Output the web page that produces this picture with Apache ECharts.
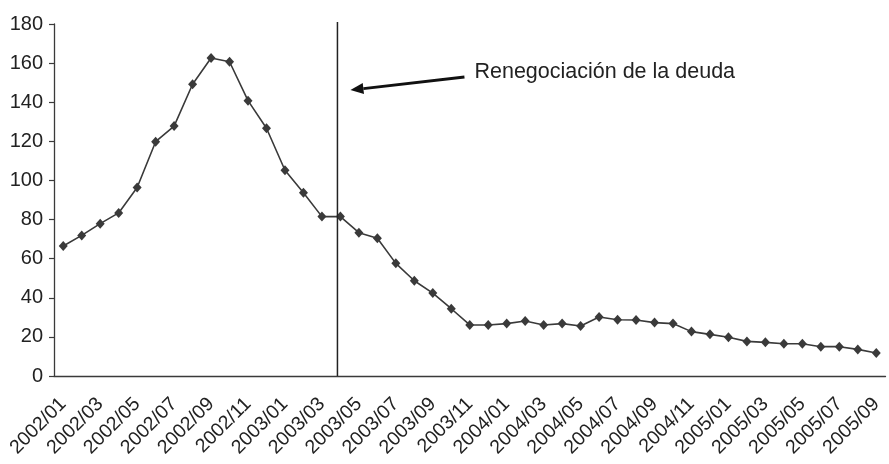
<!DOCTYPE html>
<html>
<head>
<meta charset="utf-8">
<script src="https://cdn.jsdelivr.net/npm/echarts@6/dist/echarts.min.js"></script>
<style>
  html, body { margin: 0; padding: 0; background: #fff; }
  #chart { width: 889px; height: 464px; }
</style>
</head>
<body>
<div id="chart"></div>
<script>
// Monthly series, 2002/01 – 2005/09
const months = [];
for (let y = 2002; y <= 2005; y++) {
  for (let m = 1; m <= 12; m++) {
    if (y === 2005 && m > 9) break;
    months.push(y + '/' + String(m).padStart(2, '0'));
  }
}

const values = [
  66.5, 71.9, 77.9, 83.4, 96.4, 119.8, 127.8, 149.2, 162.6, 160.7,
  140.8, 126.7, 105.2, 93.7, 81.5, 81.5, 73.3, 70.4, 57.6, 48.7,
  42.4, 34.4, 26.1, 26.1, 26.8, 28.1, 26.1, 26.8, 25.6, 30.2,
  28.8, 28.6, 27.3, 26.8, 22.7, 21.3, 19.8, 17.7, 17.2, 16.5,
  16.5, 15.0, 15.0, 13.6, 11.8
];

const yTicks = { min: 0, max: 180, step: 20 };

// Month of the debt renegotiation (index into months)
const eventMonth = '2003/04';
const eventLabel = 'Renegociación de la deuda';

const ink = '#3a3a3a';
const chart = echarts.init(document.getElementById('chart'));

chart.setOption({
  animation: false,
  grid: { left: 54, right: 3.5, top: 24, bottom: 88, containLabel: false },
  xAxis: {
    type: 'category',
    data: months,
    boundaryGap: true,
    axisLine: { lineStyle: { color: ink, width: 1.3 } },
    axisTick: { interval: 0, length: 5, lineStyle: { color: ink, width: 1.2 } },
    axisLabel: {
      interval: 1,
      rotate: 45,
      margin: 25,
      color: '#222',
      fontFamily: 'Liberation Sans, Arial, sans-serif',
      fontSize: 19.5
    },
    splitLine: { show: false }
  },
  yAxis: {
    type: 'value',
    min: yTicks.min,
    max: yTicks.max,
    interval: yTicks.step,
    axisLine: { show: true, lineStyle: { color: ink, width: 1.3 } },
    axisTick: { show: true, length: 5, lineStyle: { color: ink, width: 1.2 } },
    axisLabel: {
      margin: 11,
      color: '#222',
      fontFamily: 'Liberation Sans, Arial, sans-serif',
      fontSize: 20
    },
    splitLine: { show: false }
  },
  series: [{
    type: 'line',
    data: values,
    symbol: 'diamond',
    symbolSize: [9, 10],
    itemStyle: { color: ink },
    lineStyle: { color: ink, width: 1.6 }
  }]
});

// Event marker: vertical rule, arrow and caption
function drawAnnotation() {
  const idx = months.indexOf(eventMonth);
  const x0 = chart.convertToPixel({ xAxisIndex: 0 }, idx);
  const x1 = chart.convertToPixel({ xAxisIndex: 0 }, idx - 1);
  const step = x0 - x1;
  const xLine = x0 - step * 0.16;
  const yBottom = chart.convertToPixel({ yAxisIndex: 0 }, yTicks.min);
  const yTop = chart.convertToPixel({ yAxisIndex: 0 }, yTicks.max) - 2;

  const head = [xLine + 13, 90];
  const tail = [head[0] + 114, 77];
  const ang = Math.atan2(tail[1] - head[1], tail[0] - head[0]);
  const hl = 13, hw = 5.5;
  const bx = head[0] + Math.cos(ang) * hl, by = head[1] + Math.sin(ang) * hl;
  const px = -Math.sin(ang) * hw, py = Math.cos(ang) * hw;

  chart.setOption({
    graphic: [
      {
        type: 'line',
        shape: { x1: xLine, y1: yTop, x2: xLine, y2: yBottom },
        style: { stroke: '#222', lineWidth: 1.5 },
        z: 10
      },
      {
        type: 'line',
        shape: { x1: bx, y1: by, x2: tail[0], y2: tail[1] },
        style: { stroke: '#111', lineWidth: 2.8 },
        z: 10
      },
      {
        type: 'polygon',
        shape: { points: [head, [bx + px, by + py], [bx - px, by - py]] },
        style: { fill: '#111' },
        z: 10
      },
      {
        type: 'text',
        x: tail[0] + 10,
        y: 72,
        style: {
          text: eventLabel,
          fill: '#222',
          font: '21.5px "Liberation Sans", Arial, sans-serif',
          verticalAlign: 'middle',
          align: 'left'
        },
        z: 10
      }
    ]
  });
}
drawAnnotation();
</script>
</body>
</html>
